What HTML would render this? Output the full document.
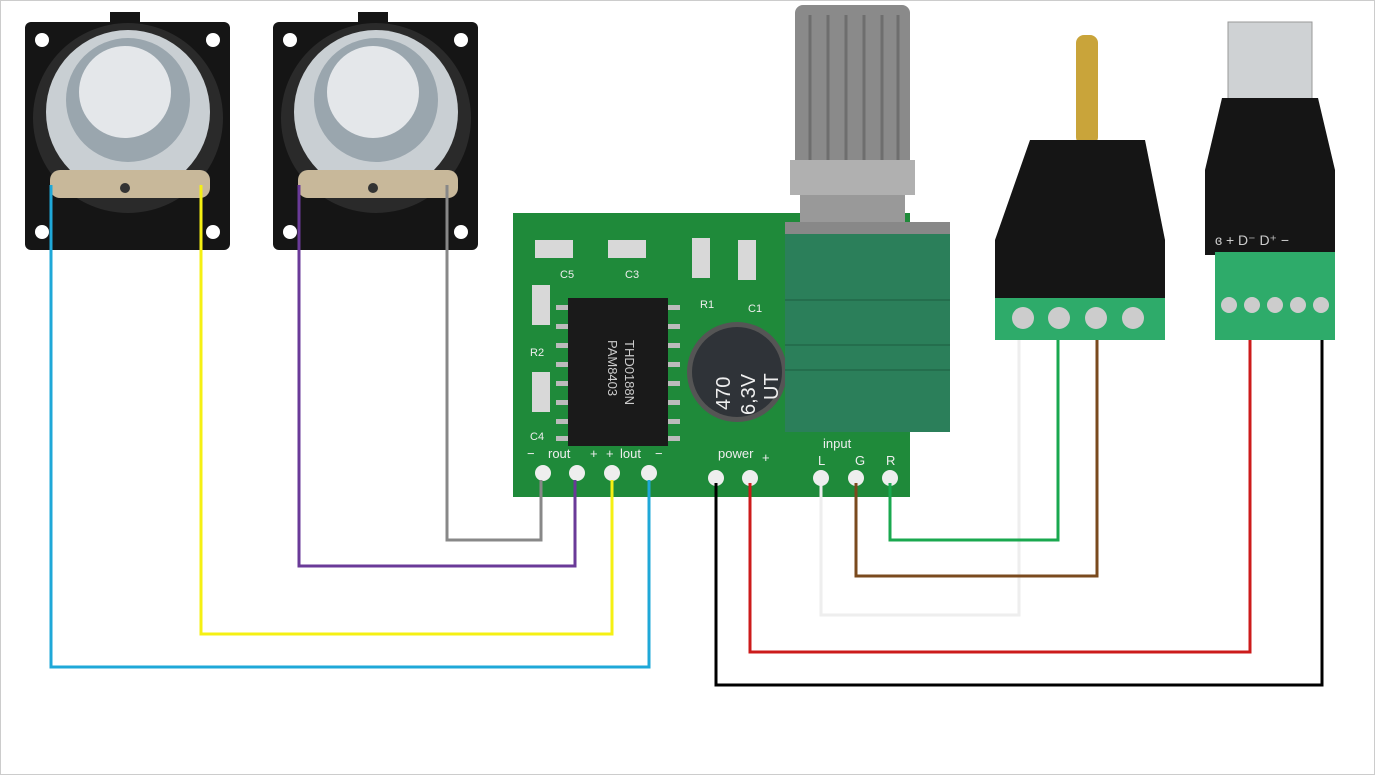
<!DOCTYPE html>
<html><head><meta charset="utf-8"><style>
html,body{margin:0;padding:0;background:#fff}
svg{display:block}
text{font-family:"Liberation Sans",sans-serif}
</style></head><body>
<svg width="1375" height="775" viewBox="0 0 1375 775" xmlns="http://www.w3.org/2000/svg">
<rect x="0.5" y="0.5" width="1374" height="774" fill="#fff" stroke="#ccc"/>
<!-- speakers -->
<g id="spk">
<rect x="25" y="22" width="205" height="228" rx="6" fill="#151515"/>
<rect x="110" y="12" width="30" height="14" fill="#151515"/>
<circle cx="42" cy="40" r="7" fill="#fff"/><circle cx="213" cy="40" r="7" fill="#fff"/>
<circle cx="42" cy="232" r="7" fill="#fff"/><circle cx="213" cy="232" r="7" fill="#fff"/>
<circle cx="128" cy="118" r="95" fill="#2a2a2a"/>
<circle cx="128" cy="112" r="82" fill="#c9cfd3"/>
<circle cx="128" cy="100" r="62" fill="#9aa6ae"/>
<circle cx="125" cy="92" r="46" fill="#e4e7ea"/>
<rect x="50" y="170" width="160" height="28" rx="10" fill="#c8b89a"/>
<circle cx="125" cy="188" r="5" fill="#333"/>
</g>
<use href="#spk" x="248"/>
<!-- PCB -->
<rect x="513" y="213" width="397" height="284" fill="#1f8a3a"/>
<g fill="#d8d8d8">
<rect x="535" y="240" width="38" height="18"/><rect x="608" y="240" width="38" height="18"/>
<rect x="692" y="238" width="18" height="40"/><rect x="738" y="240" width="18" height="40"/>
<rect x="532" y="285" width="18" height="40"/><rect x="532" y="372" width="18" height="40"/>
</g>
<g fill="#eee" font-size="11"><text x="560" y="278">C5</text><text x="625" y="278">C3</text><text x="700" y="308">R1</text><text x="748" y="312">C1</text><text x="530" y="356">R2</text><text x="530" y="440">C4</text></g>
<rect x="568" y="298" width="100" height="148" fill="#1a1a1a"/>
<g fill="#bbb">
<rect x="556" y="305" width="12" height="5"/><rect x="556" y="324" width="12" height="5"/><rect x="556" y="343" width="12" height="5"/><rect x="556" y="362" width="12" height="5"/><rect x="556" y="381" width="12" height="5"/><rect x="556" y="400" width="12" height="5"/><rect x="556" y="419" width="12" height="5"/><rect x="556" y="436" width="12" height="5"/>
<rect x="668" y="305" width="12" height="5"/><rect x="668" y="324" width="12" height="5"/><rect x="668" y="343" width="12" height="5"/><rect x="668" y="362" width="12" height="5"/><rect x="668" y="381" width="12" height="5"/><rect x="668" y="400" width="12" height="5"/><rect x="668" y="419" width="12" height="5"/><rect x="668" y="436" width="12" height="5"/>
</g>
<text x="608" y="340" fill="#ccc" font-size="13" transform="rotate(90 608 340)">PAM8403</text>
<text x="625" y="340" fill="#ccc" font-size="13" transform="rotate(90 625 340)">THD0188N</text>
<circle cx="737" cy="372" r="50" fill="#555"/>
<circle cx="737" cy="372" r="45" fill="#2f3338"/>
<g fill="#eee" font-size="20">
<text x="0" y="0" transform="translate(730 410) rotate(-90)">470</text>
<text x="0" y="0" transform="translate(755 415) rotate(-90)">6,3V</text>
<text x="0" y="0" transform="translate(778 400) rotate(-90)">UT</text>
</g>
<g fill="#eee" font-size="13">
<text x="527" y="458">−</text><text x="548" y="458">rout</text><text x="590" y="458">+</text>
<text x="606" y="458">+</text><text x="620" y="458">lout</text><text x="655" y="458">−</text>
<text x="718" y="458">power</text><text x="762" y="462">+</text>
<text x="823" y="448">input</text><text x="818" y="465">L</text><text x="855" y="465">G</text><text x="886" y="465">R</text>
</g>
<g fill="#eee"><circle cx="543" cy="473" r="8"/><circle cx="577" cy="473" r="8"/><circle cx="612" cy="473" r="8"/><circle cx="649" cy="473" r="8"/>
<circle cx="716" cy="478" r="8"/><circle cx="750" cy="478" r="8"/><circle cx="821" cy="478" r="8"/><circle cx="856" cy="478" r="8"/><circle cx="890" cy="478" r="8"/></g>
<!-- potentiometer -->
<rect x="795" y="5" width="115" height="165" rx="8" fill="#8a8a8a"/>
<g stroke="#6e6e6e" stroke-width="3"><line x1="810" y1="15" x2="810" y2="160"/><line x1="828" y1="15" x2="828" y2="160"/><line x1="846" y1="15" x2="846" y2="160"/><line x1="864" y1="15" x2="864" y2="160"/><line x1="882" y1="15" x2="882" y2="160"/><line x1="898" y1="15" x2="898" y2="160"/></g>
<rect x="790" y="160" width="125" height="35" fill="#b0b0b0"/>
<rect x="800" y="195" width="105" height="35" fill="#999"/>
<rect x="785" y="222" width="165" height="210" fill="#2b7f5a"/>
<rect x="785" y="222" width="165" height="12" fill="#888"/>
<g stroke="#246e4d" stroke-width="2"><line x1="785" y1="300" x2="950" y2="300"/><line x1="785" y1="345" x2="950" y2="345"/><line x1="785" y1="370" x2="950" y2="370"/></g>
<!-- jack -->
<rect x="1076" y="35" width="22" height="110" rx="8" fill="#c9a43a"/>
<path d="M1030 140 H1145 L1165 240 V305 H995 V240 Z" fill="#151515"/>
<rect x="995" y="298" width="170" height="42" fill="#2eab6a"/>
<g fill="#ccc"><circle cx="1023" cy="318" r="11"/><circle cx="1059" cy="318" r="11"/><circle cx="1096" cy="318" r="11"/><circle cx="1133" cy="318" r="11"/></g>
<!-- USB -->
<rect x="1228" y="22" width="84" height="80" fill="#cfd2d4" stroke="#999"/>
<path d="M1222 98 H1318 L1335 170 V255 H1205 V170 Z" fill="#151515"/>
<text x="1215" y="245" fill="#ccc" font-size="14">ɞ + D⁻ D⁺ −</text>
<rect x="1215" y="252" width="120" height="88" fill="#2eab6a"/>
<g fill="#ccc"><circle cx="1229" cy="305" r="8"/><circle cx="1252" cy="305" r="8"/><circle cx="1275" cy="305" r="8"/><circle cx="1298" cy="305" r="8"/><circle cx="1321" cy="305" r="8"/></g>
<!-- wires -->
<g fill="none" stroke-width="3">
<polyline points="51,185 51,667 649,667 649,480" stroke="#1fa8d8"/>
<polyline points="201,185 201,634 612,634 612,480" stroke="#f5f013"/>
<polyline points="299,185 299,566 575,566 575,480" stroke="#6a3a98"/>
<polyline points="447,185 447,540 541,540 541,480" stroke="#888"/>
<polyline points="716,483 716,685 1322,685 1322,340" stroke="#000"/>
<polyline points="750,483 750,652 1250,652 1250,340" stroke="#cc1b1b"/>
<polyline points="821,483 821,615 1019,615 1019,340" stroke="#eee"/>
<polyline points="856,483 856,576 1097,576 1097,340" stroke="#7a4a1e"/>
<polyline points="890,483 890,540 1058,540 1058,340" stroke="#1aa84f"/>
</g>
</svg>
</body></html>
